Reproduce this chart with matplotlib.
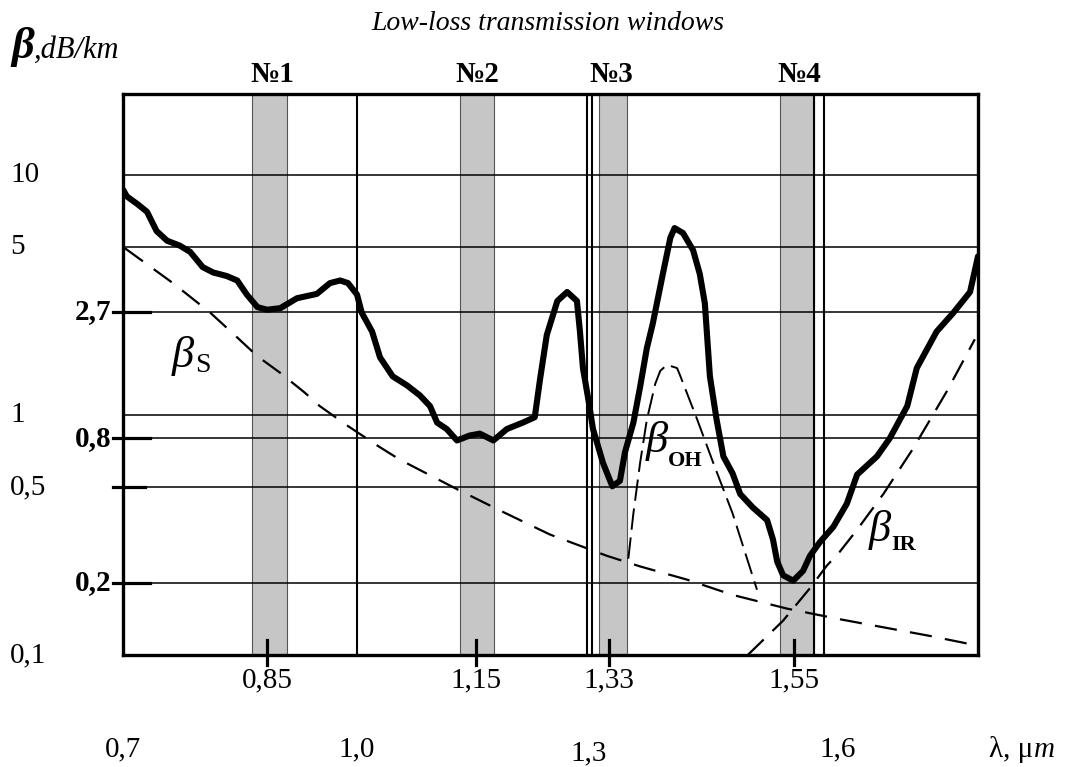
import numpy as np
import matplotlib
matplotlib.use("Agg")
import matplotlib.pyplot as plt

W, H = 1069, 767

# ---------------- data ----------------
window_names = ["№1", "№2", "№3", "№4"]
window_lo = [0.834, 1.130, 1.315, 1.533]
window_hi = [0.883, 1.174, 1.351, 1.590]

window_ticks = [0.85, 1.15, 1.33, 1.55]
window_tick_labels = ["0,85", "1,15", "1,33", "1,55"]
major_ticks = [0.7, 1.0, 1.3, 1.6]
major_tick_labels = ["0,7", "1,0", "1,3", "1,6"]
vertical_grid = [1.0, 1.297, 1.305, 1.590, 1.606]

loss_grid = [10, 5, 2.7, 1, 0.8, 0.5, 0.2]
loss_plain = [10, 5, 1, 0.5, 0.1]
loss_plain_labels = ["10", "5", "1", "0,5", "0,1"]
loss_bold = [2.7, 0.8, 0.2]
loss_bold_labels = ["2,7", "0,8", "0,2"]
loss_marked = [2.7, 0.8, 0.5, 0.2]

# schematic (non-uniform) wavelength axis of the original drawing
scale_lambda = [0.0, 0.7, 0.85, 1.0, 1.15, 1.3, 1.33, 1.55, 1.6, 1.8, 3.0]
scale_pos = [-0.786, 0.0, 0.1684, 0.2737, 0.4129, 0.5450, 0.5684, 0.7848, 0.8140, 1.0, 2.116]

total_lambda = [0.700, 0.704, 0.715, 0.725, 0.735, 0.746, 0.759, 0.770, 0.783, 0.794,
                0.808, 0.819, 0.829, 0.840, 0.850, 0.872, 0.900, 0.933, 0.955, 0.972,
                0.985, 1.000, 1.006, 1.019, 1.029, 1.045, 1.063, 1.079, 1.092, 1.101,
                1.113, 1.126, 1.142, 1.155, 1.173, 1.191, 1.212, 1.228, 1.235, 1.244,
                1.258, 1.271, 1.284, 1.288, 1.292, 1.299, 1.306, 1.321, 1.334, 1.343,
                1.349, 1.359, 1.367, 1.375, 1.382, 1.394, 1.403, 1.408, 1.418, 1.430,
                1.438, 1.444, 1.450, 1.458, 1.466, 1.477, 1.486, 1.501, 1.518, 1.525,
                1.530, 1.537, 1.549, 1.568, 1.582, 1.601, 1.618, 1.635, 1.648, 1.673,
                1.689, 1.711, 1.723, 1.748, 1.769, 1.790, 1.800]
total_loss = [8.71, 8.16, 7.58, 7.04, 5.85, 5.33, 5.09, 4.79, 4.14, 3.93,
              3.80, 3.64, 3.18, 2.82, 2.75, 2.79, 3.07, 3.20, 3.55, 3.64,
              3.55, 3.18, 2.67, 2.23, 1.74, 1.45, 1.33, 1.21, 1.09, 0.93,
              0.875, 0.784, 0.822, 0.837, 0.784, 0.875, 0.93, 0.98, 1.41, 2.16,
              2.99, 3.26, 2.99, 2.23, 1.57, 1.17, 0.875, 0.632, 0.505, 0.532,
              0.70, 0.93, 1.31, 1.90, 2.40, 3.87, 5.49, 6.02, 5.74, 4.87,
              3.87, 2.92, 1.45, 0.956, 0.673, 0.571, 0.469, 0.412, 0.365, 0.303,
              0.245, 0.215, 0.204, 0.224, 0.259, 0.295, 0.342, 0.427, 0.565, 0.673,
              0.80, 1.09, 1.57, 2.23, 2.67, 3.26, 4.59]

scatter_lambda = [0.702, 0.752, 0.791, 0.815, 0.840, 0.872, 0.913, 0.938, 0.985, 1.026,
                  1.054, 1.124, 1.182, 1.248, 1.327, 1.367, 1.423, 1.477, 1.542, 1.626,
                  1.740, 1.796]
scatter_loss = [4.96, 3.55, 2.67, 2.18, 1.76, 1.50, 1.24, 1.09, 0.90, 0.745,
                0.652, 0.495, 0.40, 0.318, 0.259, 0.234, 0.206, 0.178, 0.156, 0.141,
                0.120, 0.110]

oh_lambda = [1.353, 1.359, 1.367, 1.375, 1.385, 1.391, 1.399, 1.411, 1.415, 1.435,
             1.454, 1.477, 1.506]
oh_loss = [0.252, 0.389, 0.632, 0.956, 1.35, 1.53, 1.62, 1.57, 1.45, 0.956,
           0.632, 0.389, 0.187]

ir_lambda = [1.495, 1.537, 1.582, 1.610, 1.626, 1.648, 1.681, 1.718, 1.761, 1.796]
ir_loss = [0.100, 0.139, 0.190, 0.236, 0.269, 0.333, 0.469, 0.722, 1.26, 2.07]

# ---------------- figure ----------------
plt.rcParams['font.family'] = ['Liberation Serif', 'DejaVu Serif']

fig = plt.figure(figsize=(W / 100, H / 100), dpi=100)
L, R, T, B = 123, 978, 94, 655
ax = fig.add_axes([L / W, 1 - B / H, (R - L) / W, (B - T) / H])


def fwd(x):
    return np.interp(x, scale_lambda, scale_pos)


def inv(y):
    return np.interp(y, scale_pos, scale_lambda)


ax.set_xscale('function', functions=(fwd, inv))
ax.set_yscale('log')
ax.set_xlim(0.7, 1.8)
ax.set_ylim(0.1, 21.8)
ax.set_xticks([])
ax.set_yticks([])
ax.minorticks_off()
ax.tick_params(which='both', left=False, bottom=False, labelleft=False, labelbottom=False)

for sp in ax.spines.values():
    sp.set_linewidth(2.4)
    sp.set_zorder(6)

# windows
for lo, hi in zip(window_lo, window_hi):
    ax.axvspan(lo, hi, facecolor='#c6c6c6', edgecolor='#555555', lw=0.8, zorder=0)

# grid
for v in loss_grid:
    ax.axhline(v, color='black', lw=1.1, zorder=1)
for xv in vertical_grid:
    ax.axvline(xv, color='black', lw=1.5, zorder=1)

# curves
ax.plot(scatter_lambda, scatter_loss, color='black', lw=1.6, dashes=(10, 6), zorder=3)
ax.plot(oh_lambda, oh_loss, color='black', lw=1.4, dashes=(11, 4), zorder=3)
ax.plot(ir_lambda, ir_loss, color='black', lw=1.6, dashes=(10, 5.5), zorder=3)
ax.plot(total_lambda, total_loss, color='black', lw=4.4, solid_capstyle='round',
        solid_joinstyle='round', zorder=4)

ytr = ax.get_yaxis_transform()
xtr = ax.get_xaxis_transform()

# left tick marks and labels
for v in loss_marked:
    x1 = 0.0316 if v != 0.5 else 0.0257
    ax.plot([-0.012, x1], [v, v], transform=ytr, color='black', lw=2.3,
            clip_on=False, zorder=5)
for v, s in zip(loss_plain, loss_plain_labels):
    ax.text(-0.132, v, s, transform=ytr, ha='left', va='center', fontsize=21)
for v, s in zip(loss_bold, loss_bold_labels):
    ax.text(-0.014, v, s, transform=ytr, ha='right', va='center', fontsize=21,
            fontweight='bold')

# bottom tick marks and labels
for xv, s in zip(window_ticks, window_tick_labels):
    ax.plot([xv, xv], [0.027, -0.018], transform=xtr, color='black', lw=2.3,
            clip_on=False, zorder=5)
    ax.text(xv, -0.057, s, transform=xtr, ha='center', va='baseline', fontsize=21)
for xv, s in zip(major_ticks, major_tick_labels):
    yb = -0.187 if s == "1,3" else -0.180
    ha = 'left' if s == "1,6" else 'center'
    ax.text(xv, yb, s, transform=xtr, ha=ha, va='baseline', fontsize=21)

# window names
for lo, hi, s in zip(window_lo, window_hi, window_names):
    ax.text((lo + hi) / 2, 1.0214, s, transform=xtr, ha='center', va='baseline',
            fontsize=21, fontweight='bold')


def ftext(px, py, s, **kw):
    return fig.text(px / W, 1 - py / H, s, **kw)


def after(t, py, s, gap=0, **kw):
    """Place text s right after text t (pixel layout)."""
    fig.canvas.draw()
    bb = t.get_window_extent()
    return ftext(bb.x1 + gap, py, s, **kw)


ftext(548, 24, "Low-loss transmission windows", ha='center', va='center',
      fontsize=20, style='italic')
tb = ftext(11, 58, "β", ha='left', va='baseline', fontsize=32, fontweight='bold', style='italic')
after(tb, 58, ",dB/km", gap=0, ha='left', va='baseline', fontsize=22, style='italic')

t1 = ftext(172, 356, "β", ha='left', va='center', fontsize=32, style='italic')
after(t1, 366, "S", gap=1, ha='left', va='center', fontsize=20)
t2 = ftext(646, 441, "β", ha='left', va='center', fontsize=32, style='italic')
after(t2, 461, "OH", gap=0, ha='left', va='center', fontsize=16, fontweight='bold')
t3 = ftext(869, 530, "β", ha='left', va='center', fontsize=32, style='italic')
after(t3, 545, "IR", gap=0, ha='left', va='center', fontsize=16, fontweight='bold')

tl = ftext(989, 757, "λ, μ", ha='left', va='baseline', fontsize=21)
after(tl, 757, "m", gap=1, ha='left', va='baseline', fontsize=21, style='italic')

fig.savefig("out.png", dpi=100)
